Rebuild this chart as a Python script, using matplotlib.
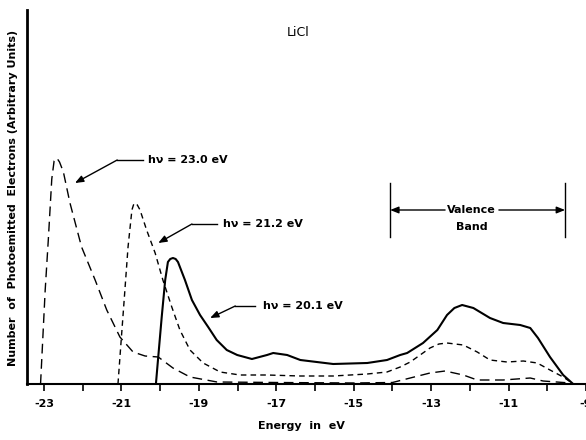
import matplotlib
matplotlib.use("Agg")
import matplotlib.pyplot as plt

# ---- data (arbitrary units) ----
e_230 = [-23.09, -22.97, -22.89, -22.80, -22.74, -22.67, -22.60, -22.50, -22.33, -22.03, -21.68, -21.38,
         -21.04, -20.70, -20.39, -20.05, -19.67, -19.23, -18.53, -17.0, -15.0, -14.0,
         -13.03, -12.64, -12.17, -11.81, -11.14, -10.44, -10.11, -9.41]
i_230 = [0, 94, 144, 205, 223, 226, 222, 212, 181, 137, 104, 74,
         47, 32, 28, 27, 16, 7, 2, 1.5, 1, 1.5,
         11, 13, 9, 4, 4, 6, 3, 1]

e_212 = [-21.09, -21.02, -20.93, -20.83, -20.73, -20.69, -20.65, -20.59, -20.52, -20.35, -20.13, -19.93,
         -19.70, -19.49, -19.23, -18.89, -18.45, -17.94, -17.24, -16.38, -15.53, -14.65,
         -14.14, -13.80, -13.54, -13.03, -12.80, -12.59, -12.17, -11.81, -11.48, -11.04, -10.62,
         -10.26, -9.93, -9.59, -9.36]
i_212 = [0, 37, 84, 137, 174, 179, 181, 179, 174, 154, 131, 104,
         77, 54, 34, 21, 12, 9, 9, 8, 8, 10,
         12, 17, 22, 36, 40, 41, 39, 32, 24, 22, 23,
         21, 14, 7, 1]

e_201 = [-20.11, -20.05, -19.96, -19.87, -19.80, -19.74, -19.67, -19.60, -19.54, -19.36, -19.18, -18.97,
         -18.76, -18.54, -18.28, -18.01, -17.63, -17.24, -17.08, -16.72, -16.38, -15.53,
         -14.65, -14.14, -13.80, -13.62, -13.21, -12.84, -12.59, -12.40, -12.20, -11.91, -11.48,
         -11.14, -10.70, -10.44, -10.24, -9.93, -9.59, -9.36]
i_201 = [0, 27, 67, 104, 122, 125, 126, 125, 122, 104, 84, 69,
         57, 44, 34, 29, 25, 29, 31, 29, 24, 20,
         21, 24, 29, 31, 41, 54, 69, 76, 79, 76, 66,
         61, 59, 56, 46, 27, 9, 1]

major_ticks = [-23, -21, -19, -17, -15, -13, -11, -9]
minor_ticks = [-22, -20, -18, -16, -14, -12, -10]
tick_labels = ["-23", "-21", "-19", "-17", "-15", "-13", "-11", "-9"]
valence_lo, valence_hi = -14.06, -9.54

plt.rcParams['font.family'] = ['DejaVu Sans']
plt.rcParams['axes.unicode_minus'] = False

W, H = 586, 440
fig = plt.figure(figsize=(W / 100, H / 100), dpi=100)
ax = fig.add_axes([27 / W, 1 - 384 / H, 1 - 27 / W, (384 - 10) / H])

ax.plot(e_230, i_230, color='black', lw=1.0, ls=(0, (7, 4)))
ax.plot(e_212, i_212, color='black', lw=1.0, ls=(0, (4, 3)))
ax.plot(e_201, i_201, color='black', lw=1.5, ls='-')

ax.set_xlim(-23.44, -9.0)
ax.set_ylim(0, 374)
ax.set_xticks(major_ticks)
ax.set_xticklabels(tick_labels, fontsize=8, fontweight='bold')
ax.set_xticks(minor_ticks, minor=True)
ax.tick_params(axis='x', which='both', direction='out', length=5, width=1.2, pad=6)
ax.set_yticks([])
for s in ['top', 'right']:
    ax.spines[s].set_visible(False)
ax.spines['left'].set_linewidth(2)
ax.spines['bottom'].set_linewidth(1.5)

txt = dict(fontsize=8, fontweight='bold', va='center', ha='left')
arrow = dict(arrowstyle='-|>,head_length=0.5,head_width=0.2', color='black', lw=1.0,
             shrinkA=0, shrinkB=0)

def leader(tip, elbow_l, elbow_r, text_x, text):
    ax.plot([elbow_l[0], elbow_r], [elbow_l[1], elbow_l[1]], color='black', lw=1.0)
    ax.annotate('', xy=tip, xytext=elbow_l, arrowprops=arrow)
    ax.text(text_x, elbow_l[1], text, **txt)

leader((-22.20, 201), (-21.11, 224), -20.44, -20.31, 'hν = 23.0 eV')
leader((-20.05, 141), (-19.18, 160), -18.53, -18.37, 'hν = 21.2 eV')
leader((-18.71, 66), (-18.06, 78), -17.55, -17.34, 'hν = 20.1 eV')

# valence band bracket
ax.plot([valence_lo, valence_lo], [147, 201], color='black', lw=1.0)
ax.plot([valence_hi, valence_hi], [147, 201], color='black', lw=1.0)
ax.annotate('', xy=(valence_lo, 174), xytext=(-12.64, 174), arrowprops=arrow)
ax.annotate('', xy=(valence_hi, 174), xytext=(-11.25, 174), arrowprops=arrow)
ax.text(-11.95, 174, 'Valence', fontsize=8, fontweight='bold', ha='center', va='center')
ax.text(-11.95, 157, 'Band', fontsize=8, fontweight='bold', ha='center', va='center')

fig.text(298 / W, 1 - 33 / H, 'LiCl', fontsize=9, ha='center', va='center')
fig.text(301 / W, 1 - 426 / H, 'Energy  in  eV', fontsize=8, fontweight='bold',
         ha='center', va='center')
fig.text(13 / W, 1 - 198 / H, 'Number  of  Photoemitted  Electrons (Arbitrary Units)',
         fontsize=8, fontweight='bold', rotation=90, ha='center', va='center')

fig.savefig('out.png', dpi=100)
